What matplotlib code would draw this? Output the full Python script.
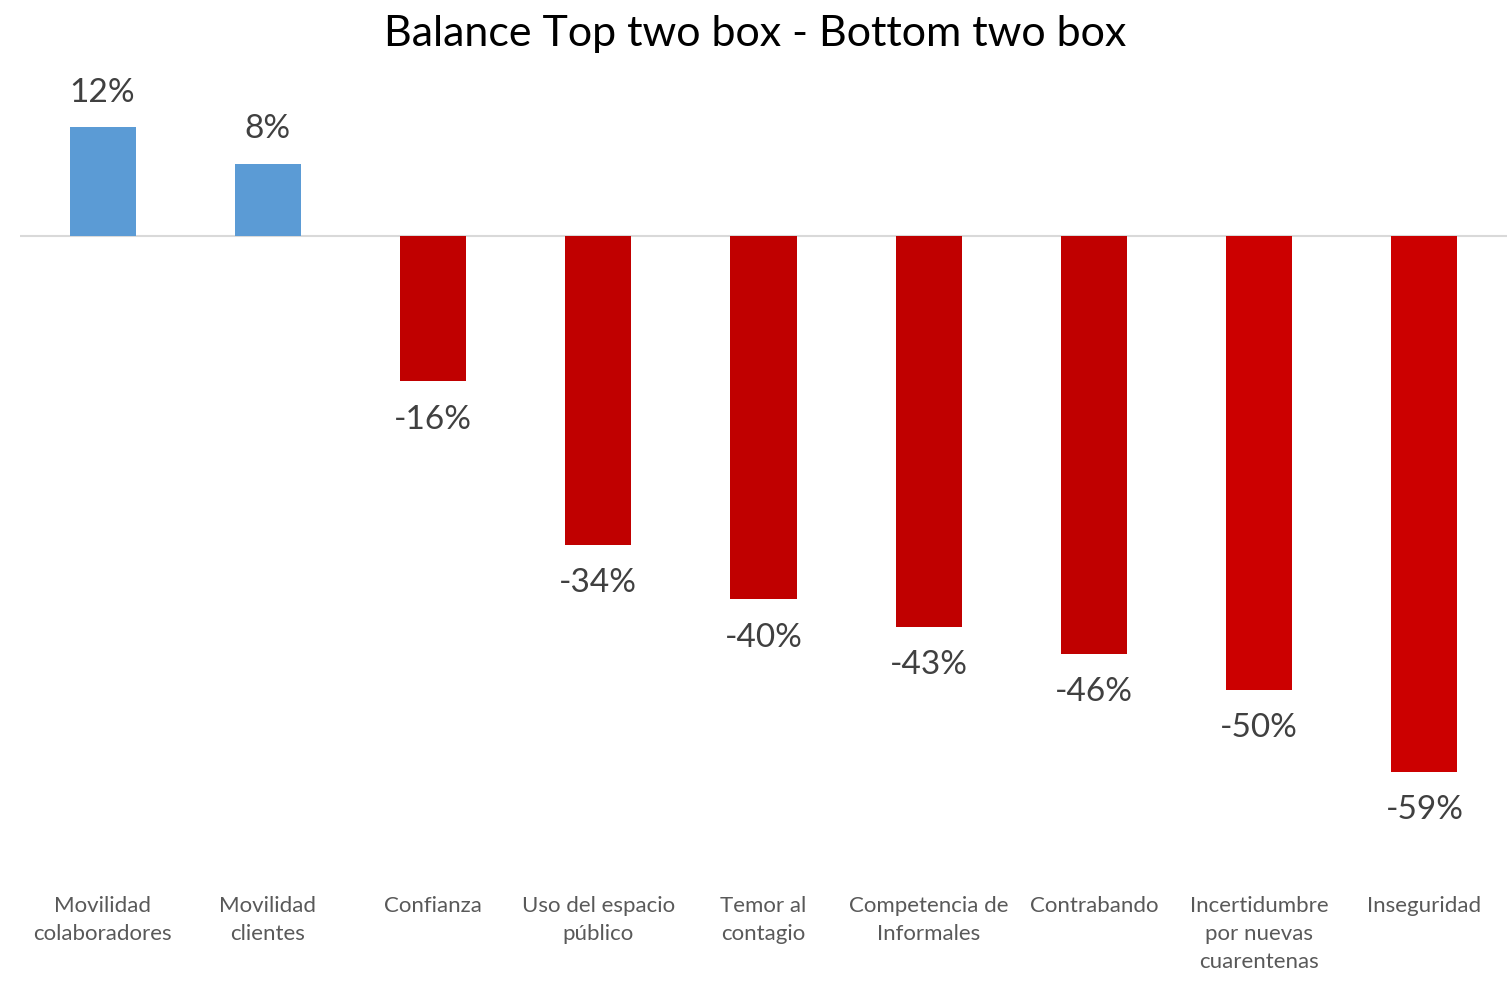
import matplotlib.pyplot as plt

plt.rcParams['font.family'] = ['Lato', 'DejaVu Sans']

categories = ['Movilidad\ncolaboradores', 'Movilidad\nclientes', 'Confianza',
              'Uso del espacio\npúblico', 'Temor al\ncontagio',
              'Competencia de\nInformales', 'Contrabando',
              'Incertidumbre\npor nuevas\ncuarentenas', 'Inseguridad']
values = [12, 8, -16, -34, -40, -43, -46, -50, -59]
colors = ['#5B9BD5', '#5B9BD5', '#C00000', '#C00000', '#C00000', '#C00000',
          '#C00000', '#CC0000', '#CC0000']

fig = plt.figure(figsize=(15.11, 9.81), dpi=100)
ax = fig.add_axes([20 / 1511, 1 - 870 / 981, 1487 / 1511, 790 / 981])

x = range(len(values))
ax.bar(x, values, width=0.4, color=colors, zorder=2)
ax.axhline(0, color='#D9D9D9', linewidth=1.5, zorder=1)

for i, v in enumerate(values):
    if v >= 0:
        ax.text(i, v + 3.8, f'{v}%', ha='center', va='center',
                fontsize=24, color='#404040')
    else:
        ax.text(i, v - 4.2, f'{v}%', ha='center', va='center',
                fontsize=24, color='#404040')

ax.set_xlim(-0.5, len(values) - 0.5)
ax.set_ylim(-69.8, 17.2)
ax.set_xticks(list(x))
ax.set_xticklabels(categories, fontsize=16, color='#595959', linespacing=1.5)
ax.tick_params(axis='x', length=0, pad=19)
ax.set_yticks([])
for s in ax.spines.values():
    s.set_visible(False)

fig.text(0.5, 1 - 34 / 981, 'Balance Top two box - Bottom two box',
         ha='center', va='center', fontsize=31, color='black')

fig.savefig('out.png', dpi=100)
